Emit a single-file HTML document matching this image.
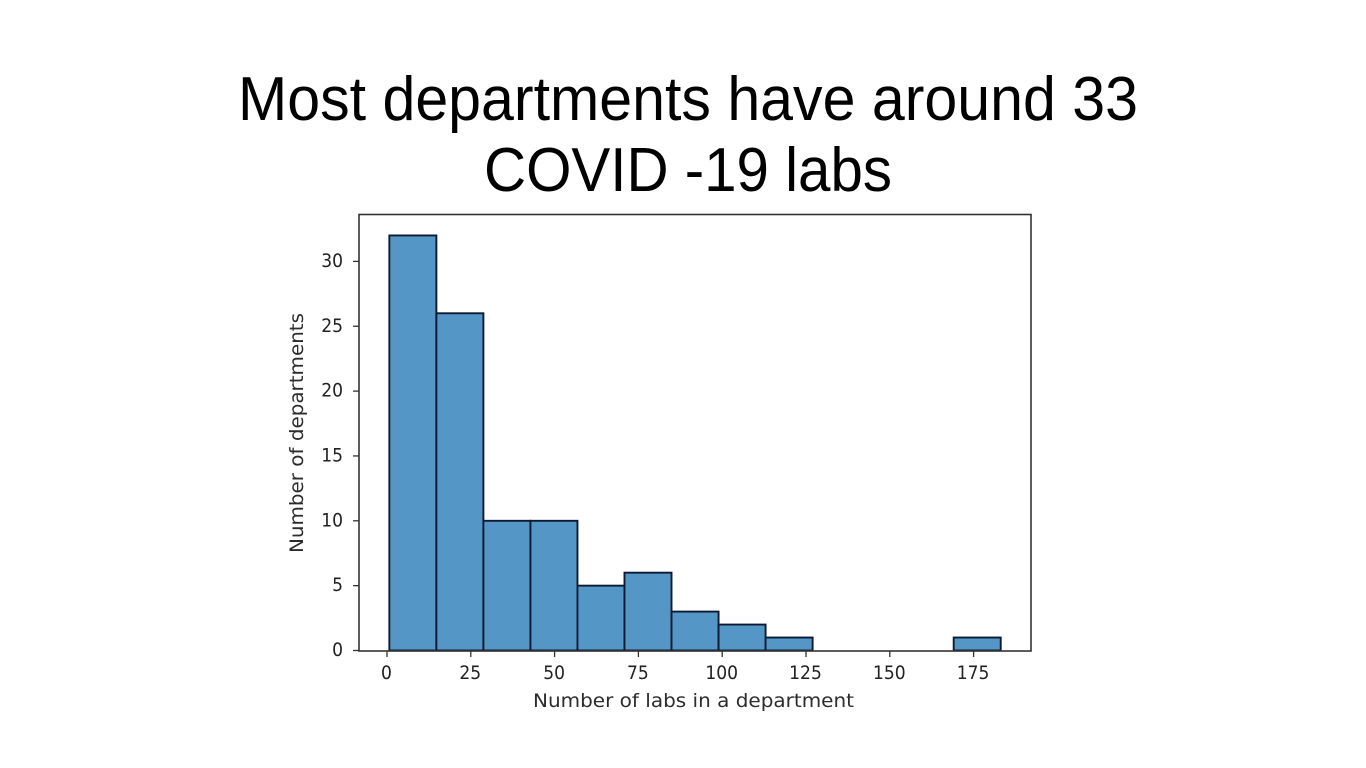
<!DOCTYPE html>
<html lang="en">
<head>
<meta charset="utf-8">
<title>Most departments have around 33 COVID-19 labs</title>
<style>
  html, body { margin: 0; padding: 0; background: #fff; width: 1366px; height: 768px; overflow: hidden; }
  svg { display: block; }
  .title { font-family: "Liberation Sans", sans-serif; font-size: 62px; fill: #000; }
  .tick { font-family: "DejaVu Sans", sans-serif; font-size: 18.5px; fill: #222; }
  .axis-label { font-family: "DejaVu Sans", sans-serif; font-size: 19px; fill: #2c2c2c; }
  #chart { filter: blur(0.3px); }
</style>
</head>
<body>
<svg id="slide" width="1366" height="768" viewBox="0 0 1366 768" xmlns="http://www.w3.org/2000/svg">
  <text class="title" x="238" y="120" textLength="900" lengthAdjust="spacingAndGlyphs">Most departments have around 33</text>
  <text class="title" x="484" y="191" textLength="408" lengthAdjust="spacingAndGlyphs">COVID -19 labs</text>
  <g id="chart"></g>
</svg>
<script>
const binCounts = [32, 26, 10, 10, 5, 6, 3, 2, 1, 0, 0, 0, 1];
const binStart = 0.7;
const binWidth = 14.03;
const xTicks = [0, 25, 50, 75, 100, 125, 150, 175];
const yTicks = [0, 5, 10, 15, 20, 25, 30];
const xAxisTitle = 'Number of labs in a department';
const yAxisTitle = 'Number of departments';

const frameLeft = 359, frameRight = 1031, frameTop = 214.5, frameBottom = 651;
const xScale = function (v) { return 387 + v * 3.352; };
const yScale = function (v) { return 650.5 - v * 12.97; };
const digitWidth = 10.9;

const ns = 'http://www.w3.org/2000/svg';
const chart = document.getElementById('chart');

function make(tag, attrs) {
  const el = document.createElementNS(ns, tag);
  for (const k in attrs) el.setAttribute(k, attrs[k]);
  chart.appendChild(el);
  return el;
}

const plotBg = make('rect', { x: frameLeft, y: frameTop, width: frameRight - frameLeft, height: frameBottom - frameTop, fill: '#fff' });



binCounts.forEach(function (count, i) {
  if (count === 0) return;
  const x0 = xScale(binStart + i * binWidth);
  const x1 = xScale(binStart + (i + 1) * binWidth);
  const y1 = yScale(count);
  const bar = make('rect', {
    x: x0, y: y1, width: x1 - x0, height: yScale(0) - y1,
    fill: '#5497c6', stroke: '#0c1a34', 'stroke-width': 1.9
  });
  
  
});

const frame = make('rect', {
  x: frameLeft, y: frameTop, width: frameRight - frameLeft, height: frameBottom - frameTop,
  fill: 'none', stroke: '#333', 'stroke-width': 1.6
});



xTicks.forEach(function (v) {
  const x = xScale(v);
  const mark = make('line', { x1: x, x2: x, y1: frameBottom, y2: frameBottom + 6, stroke: '#333', 'stroke-width': 1.3 });
  
  
  const w = String(v).length * digitWidth;
  const label = make('text', { x: x - w / 2 - 0.5, y: 679, class: 'tick', textLength: w, lengthAdjust: 'spacingAndGlyphs' });
  
  
  label.textContent = v;
});

yTicks.forEach(function (v) {
  const y = yScale(v);
  const mark = make('line', { x1: frameLeft, x2: frameLeft - 6, y1: y, y2: y, stroke: '#333', 'stroke-width': 1.3 });
  
  
  const w = String(v).length * digitWidth;
  const label = make('text', { x: 343 - w, y: y + 5.5, class: 'tick', textLength: w, lengthAdjust: 'spacingAndGlyphs' });
  
  
  label.textContent = v;
});

const xTitle = make('text', { x: 533, y: 707, class: 'axis-label', textLength: 321, lengthAdjust: 'spacingAndGlyphs' });


xTitle.textContent = xAxisTitle;

const yTitle = make('text', { transform: 'translate(303 553) rotate(-90)', class: 'axis-label', textLength: 240, lengthAdjust: 'spacingAndGlyphs' });


yTitle.textContent = yAxisTitle;
</script>
</body>
</html>
